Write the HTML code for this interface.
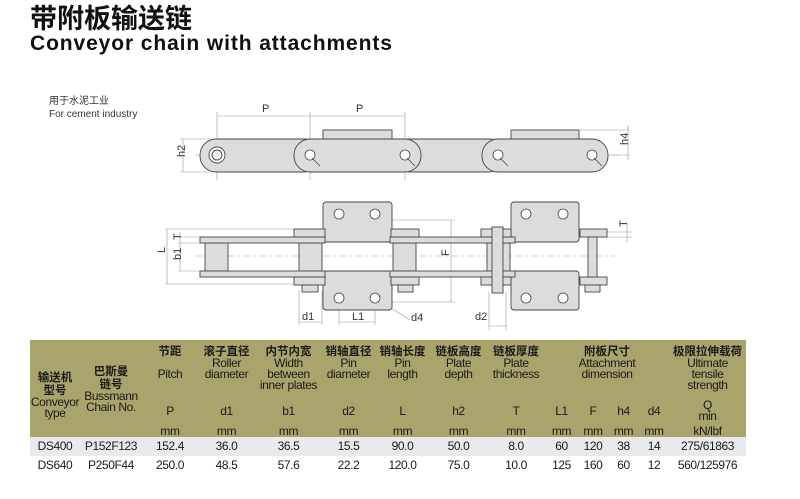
<!DOCTYPE html>
<html><head><meta charset="utf-8"><style>
body{margin:0;width:800px;height:499px;background:#fff;position:relative;overflow:hidden;font-family:"Liberation Sans","Noto Sans CJK SC",sans-serif;}
.t1{position:absolute;left:30px;top:2px;font-size:27px;font-weight:bold;color:#111;font-family:"Noto Sans CJK SC",sans-serif;line-height:30px;}
.t2{position:absolute;left:30px;top:32px;font-size:21px;font-weight:bold;color:#111;line-height:24px;letter-spacing:0.9px}
.sub{position:absolute;left:49px;top:95px;font-size:10px;color:#333;line-height:13px;}
table{position:absolute;left:30px;top:340px;width:716px;border-collapse:collapse;font-size:12px;letter-spacing:-0.4px;color:#1a1a1a;text-align:center;table-layout:fixed;}
td{padding:0;line-height:11px;white-space:nowrap;overflow:hidden;}
.h td{background:#a9a46c;}
.top td{vertical-align:top;padding-top:5px;}
.r1 td{background:#e9eaee;height:19px;}
.r2 td{height:19px;}
.cn{font-family:"Noto Sans CJK SC",sans-serif;font-weight:bold;font-size:11.5px;line-height:13px;letter-spacing:0}
</style></head><body>
<div class="t1">带附板输送链</div>
<div class="t2">Conveyor chain with attachments</div>
<div class="sub">用于水泥工业<br>For cement industry</div>
<svg width="800" height="340" style="position:absolute;left:0;top:0" font-family="Liberation Sans" font-size="9" fill="#333">
<g stroke="#999" stroke-width="0.6" fill="none">
<line x1="217" y1="116" x2="405" y2="116"/><line x1="217" y1="112" x2="217" y2="180"/><line x1="310" y1="112" x2="310" y2="180"/><line x1="405" y1="112" x2="405" y2="180"/>
<line x1="180" y1="139" x2="210" y2="139"/><line x1="180" y1="172" x2="210" y2="172"/><line x1="183" y1="139" x2="183" y2="172"/>
<line x1="580" y1="130" x2="630" y2="130"/><line x1="600" y1="155" x2="630" y2="155"/><line x1="628" y1="125" x2="628" y2="160"/>
<line x1="195" y1="155" x2="620" y2="155" stroke-dasharray="8,3,2,3"/>
<line x1="195" y1="256" x2="615" y2="256" stroke-dasharray="8,3,2,3"/>
<line x1="165" y1="229" x2="294" y2="229"/><line x1="165" y1="284" x2="294" y2="284"/><line x1="167" y1="229" x2="167" y2="284"/>
<line x1="178" y1="237" x2="200" y2="237"/><line x1="178" y1="243" x2="200" y2="243"/><line x1="178" y1="271" x2="200" y2="271"/><line x1="180" y1="232" x2="180" y2="271"/>
<line x1="392" y1="220" x2="455" y2="220"/><line x1="392" y1="302" x2="455" y2="302"/><line x1="451" y1="220" x2="451" y2="302"/>
<line x1="299" y1="290" x2="299" y2="325"/><line x1="322" y1="290" x2="322" y2="325"/><line x1="299" y1="322" x2="322" y2="322"/>
<line x1="339" y1="300" x2="339" y2="325"/><line x1="375" y1="300" x2="375" y2="325"/><line x1="339" y1="322" x2="375" y2="322"/>
<line x1="375" y1="298" x2="410" y2="320"/>
<line x1="489" y1="292" x2="489" y2="330"/><line x1="506" y1="292" x2="506" y2="330"/><line x1="489" y1="326" x2="506" y2="326"/>
<line x1="605" y1="232" x2="632" y2="232"/><line x1="605" y1="237" x2="632" y2="237"/><line x1="627" y1="222" x2="627" y2="242"/>
</g>
<g font-size="11">
<text x="262" y="112">P</text><text x="356" y="112">P</text>
<text x="182" y="160" transform="rotate(-90 182 157)">h2</text>
<text x="625" y="148" transform="rotate(-90 625 145)">h4</text>
<text x="165" y="259" transform="rotate(-90 162 256)">L</text>
<text x="178" y="263" transform="rotate(-90 178 260)">b1</text>
<text x="178" y="243" transform="rotate(-90 178 240)">T</text>
<text x="446" y="259" transform="rotate(-90 446 256)">F</text>
<text x="624" y="230" transform="rotate(-90 624 227)">T</text>
<text x="302" y="320">d1</text><text x="352" y="320">L1</text><text x="411" y="321">d4</text><text x="475" y="320">d2</text>
</g>
<g fill="#dcdcdc" stroke="#444" stroke-width="0.9">
<rect x="323" y="130" width="69" height="12"/><rect x="511" y="130" width="68" height="12"/>
<rect x="200" y="139" width="120" height="33" rx="16"/>
<rect x="395" y="139" width="110" height="33" rx="16"/>
<rect x="294" y="139" width="127" height="33" rx="16"/>
<rect x="482" y="139" width="126" height="33" rx="16"/>
<circle cx="217" cy="155" r="8" fill="#fff"/><circle cx="217" cy="155" r="5" fill="#eee"/>
</g>
<g fill="#fff" stroke="#444" stroke-width="0.8">
<circle cx="310" cy="155" r="5"/><circle cx="405" cy="155" r="5"/><circle cx="498" cy="155" r="5"/><circle cx="592" cy="155" r="5"/>
<line x1="312" y1="158" x2="320" y2="166"/><line x1="407" y1="158" x2="415" y2="166"/><line x1="500" y1="158" x2="508" y2="166"/><line x1="594" y1="158" x2="602" y2="166"/>
</g>
<g fill="#dcdcdc" stroke="#444" stroke-width="0.9">
<rect x="323" y="202" width="69" height="40" rx="3"/><rect x="323" y="271" width="69" height="39" rx="3"/>
<rect x="511" y="202" width="68" height="40" rx="3"/><rect x="511" y="271" width="68" height="39" rx="3"/>
<rect x="205" y="243" width="23" height="28"/><rect x="299" y="243" width="23" height="28"/><rect x="393" y="243" width="23" height="28"/><rect x="487" y="243" width="23" height="28"/>
<rect x="200" y="237" width="125" height="6"/><rect x="200" y="271" width="125" height="6"/>
<rect x="390" y="237" width="125" height="6"/><rect x="390" y="271" width="125" height="6"/>
<rect x="294" y="229" width="31" height="8"/><rect x="294" y="277" width="31" height="8"/>
<rect x="391" y="229" width="28" height="8"/><rect x="391" y="277" width="28" height="8"/>
<rect x="481" y="229" width="30" height="8"/><rect x="481" y="277" width="30" height="8"/>
<rect x="580" y="229" width="27" height="8"/><rect x="580" y="277" width="27" height="8"/>
<rect x="302" y="285" width="16" height="7"/><rect x="398" y="285" width="15" height="7"/><rect x="585" y="285" width="15" height="7"/>
<rect x="492" y="227" width="11" height="66"/><rect x="588" y="237" width="9" height="40"/>
</g>
<g fill="#fff" stroke="#444" stroke-width="0.8">
<circle cx="339" cy="214" r="5"/><circle cx="375" cy="214" r="5"/><circle cx="339" cy="298" r="5"/><circle cx="375" cy="298" r="5"/>
<circle cx="526" cy="214" r="5"/><circle cx="563" cy="214" r="5"/><circle cx="526" cy="298" r="5"/><circle cx="563" cy="298" r="5"/>
</g>
</svg>
<table>
<colgroup><col style="width:50px"><col style="width:62px"><col style="width:56px"><col style="width:57px"><col style="width:67px"><col style="width:53px"><col style="width:55px"><col style="width:57px"><col style="width:58px"><col style="width:33px"><col style="width:30px"><col style="width:31px"><col style="width:30px"><col style="width:77px"></colgroup>
<tr class="h top" style="height:57px">
<td rowspan="3" style="vertical-align:middle;padding-top:12px"><span class="cn">输送机<br>型号</span><br>Conveyor<br>type</td>
<td rowspan="3" style="vertical-align:middle;padding-top:0"><span class="cn">巴斯曼<br>链号</span><br>Bussmann<br>Chain No.</td>
<td><span class="cn">节距</span><br><br>Pitch</td>
<td><span class="cn">滚子直径</span><br>Roller<br>diameter</td>
<td><span class="cn">内节内宽</span><br>Width<br>between<br>inner plates</td>
<td><span class="cn">销轴直径</span><br>Pin<br>diameter</td>
<td><span class="cn">销轴长度</span><br>Pin<br>length</td>
<td><span class="cn">链板高度</span><br>Plate<br>depth</td>
<td><span class="cn">链板厚度</span><br>Plate<br>thickness</td>
<td colspan="4"><span class="cn">附板尺寸</span><br>Attachment<br>dimension</td>
<td><span class="cn">极限拉伸载荷</span><br>Ultimate<br>tensile<br>strength</td>
</tr>
<tr class="h" style="height:28px"><td>P</td><td>d1</td><td>b1</td><td>d2</td><td>L</td><td>h2</td><td>T</td><td>L1</td><td>F</td><td>h4</td><td>d4</td><td>Q<br>min</td></tr>
<tr class="h" style="height:12px"><td>mm</td><td>mm</td><td>mm</td><td>mm</td><td>mm</td><td>mm</td><td>mm</td><td>mm</td><td>mm</td><td>mm</td><td>mm</td><td>kN/lbf</td></tr>
<tr class="r1"><td>DS400</td><td>P152F123</td><td>152.4</td><td>36.0</td><td>36.5</td><td>15.5</td><td>90.0</td><td>50.0</td><td>8.0</td><td>60</td><td>120</td><td>38</td><td>14</td><td>275/61863</td></tr>
<tr class="r2"><td>DS640</td><td>P250F44</td><td>250.0</td><td>48.5</td><td>57.6</td><td>22.2</td><td>120.0</td><td>75.0</td><td>10.0</td><td>125</td><td>160</td><td>60</td><td>12</td><td>560/125976</td></tr>
</table>
</body></html>
